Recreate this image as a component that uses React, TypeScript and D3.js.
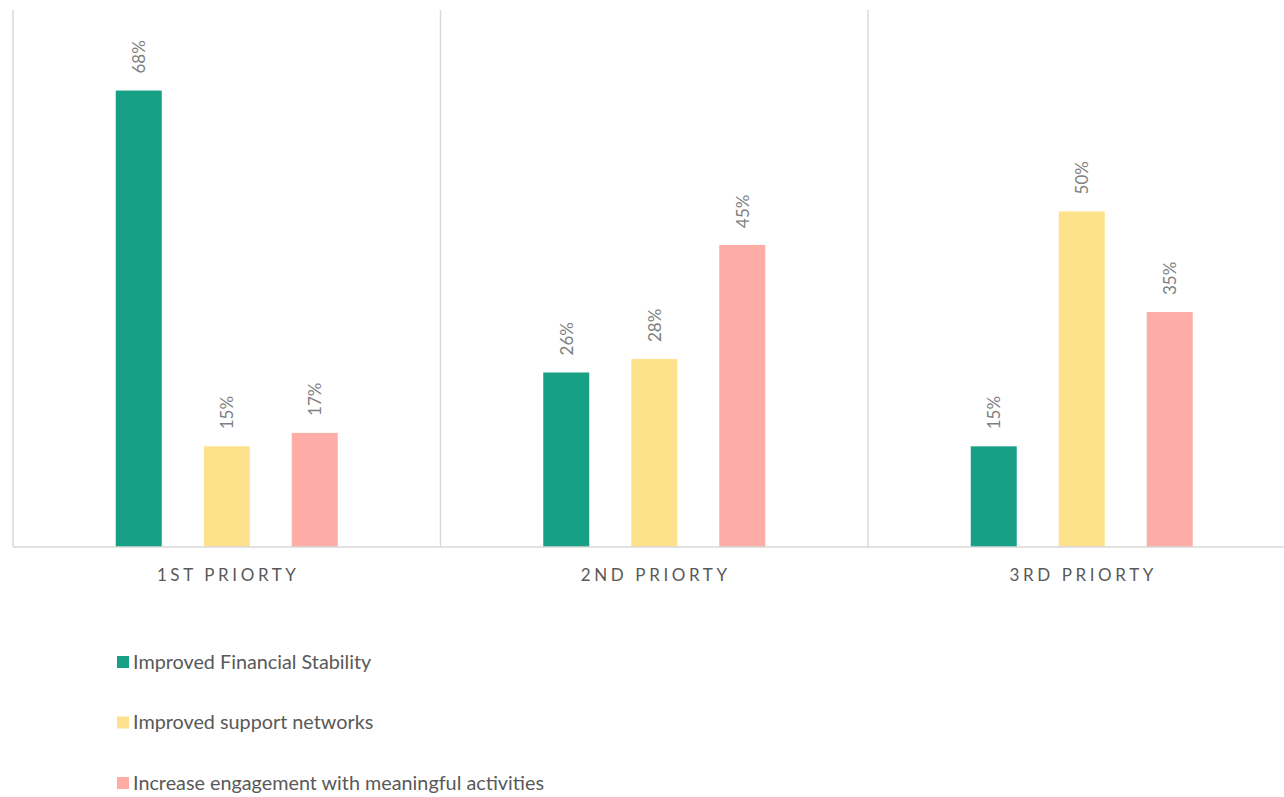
import React from "react";
import * as d3 from "d3";

const categories = ["1ST PRIORTY", "2ND PRIORTY", "3RD PRIORTY"];
const seriesNames = [
  "Improved Financial Stability",
  "Improved support networks",
  "Increase engagement with meaningful activities",
];
const financialStability = [68, 26, 15];
const supportNetworks = [15, 28, 50];
const meaningfulActivities = [17, 45, 35];
const seriesColors = ["#17a085", "#fde28b", "#feaca6"];

const W = 1284;
const H = 797;
const plot = { left: 13, right: 1295.5, top: 10, bottom: 547 };
const FONT = "Lato, 'Open Sans', sans-serif";

export default function App() {
  const series = [financialStability, supportNetworks, meaningfulActivities];

  const x0 = d3
    .scaleBand<string>()
    .domain(categories)
    .range([plot.left, plot.right])
    .paddingInner(0)
    .paddingOuter(0);

  const groupWidth = 88 * 3;
  const x1 = d3
    .scaleBand<number>()
    .domain([0, 1, 2])
    .range([0, groupWidth])
    .paddingInner(42 / 88)
    .paddingOuter(21 / 88);

  const y = d3.scaleLinear().domain([0, 80]).range([plot.bottom, plot.top]);

  const separators = categories.slice(1).map((c) => x0(c) as number);

  return (
    <svg
      width={W}
      height={H}
      style={{ position: "absolute", left: 0, top: 0, background: "#fff" }}
    >
      {/* left edge and category separators */}
      {[plot.left, ...separators].map((sx, i) => (
        <line
          key={i}
          x1={sx}
          x2={sx}
          y1={plot.top}
          y2={plot.bottom}
          stroke="#d9d9d9"
          strokeWidth={1.5}
        />
      ))}

      {categories.map((cat, ci) => {
        const gx = (x0(cat) as number) + x0.bandwidth() / 2 - groupWidth / 2;
        return (
          <g key={cat}>
            {series.map((vals, si) => {
              const bx = gx + (x1(si) as number);
              const bw = x1.bandwidth();
              const by = y(vals[ci]);
              const lx = bx + bw / 2;
              const ly = by - 17;
              return (
                <g key={si}>
                  <rect
                    x={bx}
                    y={by}
                    width={bw}
                    height={plot.bottom - by}
                    fill={seriesColors[si]}
                  />
                  <text
                    transform={`translate(${lx + 6.5},${ly}) rotate(-90)`}
                    fontFamily={FONT}
                    fontSize={17}
                    fill="#7f7f7f"
                    textAnchor="start"
                  >
                    {vals[ci]}%
                  </text>
                </g>
              );
            })}
            <text
              x={(x0(cat) as number) + x0.bandwidth() / 2 + 1.5}
              y={581}
              textAnchor="middle"
              fontFamily={FONT}
              fontSize={17}
              letterSpacing={3.6}
              fill="#595959"
            >
              {cat}
            </text>
          </g>
        );
      })}

      {/* x axis */}
      <line
        x1={plot.left}
        x2={W}
        y1={plot.bottom}
        y2={plot.bottom}
        stroke="#d9d9d9"
        strokeWidth={1.5}
      />

      {/* legend */}
      {seriesNames.map((name, i) => {
        const ly = 662 + i * 60.5;
        return (
          <g key={name}>
            <rect x={117} y={ly - 6} width={12} height={12} fill={seriesColors[i]} />
            <text
              x={133}
              y={ly + 6.5}
              fontFamily={FONT}
              fontSize={19.8}
              fill="#595959"
            >
              {name}
            </text>
          </g>
        );
      })}
    </svg>
  );
}
